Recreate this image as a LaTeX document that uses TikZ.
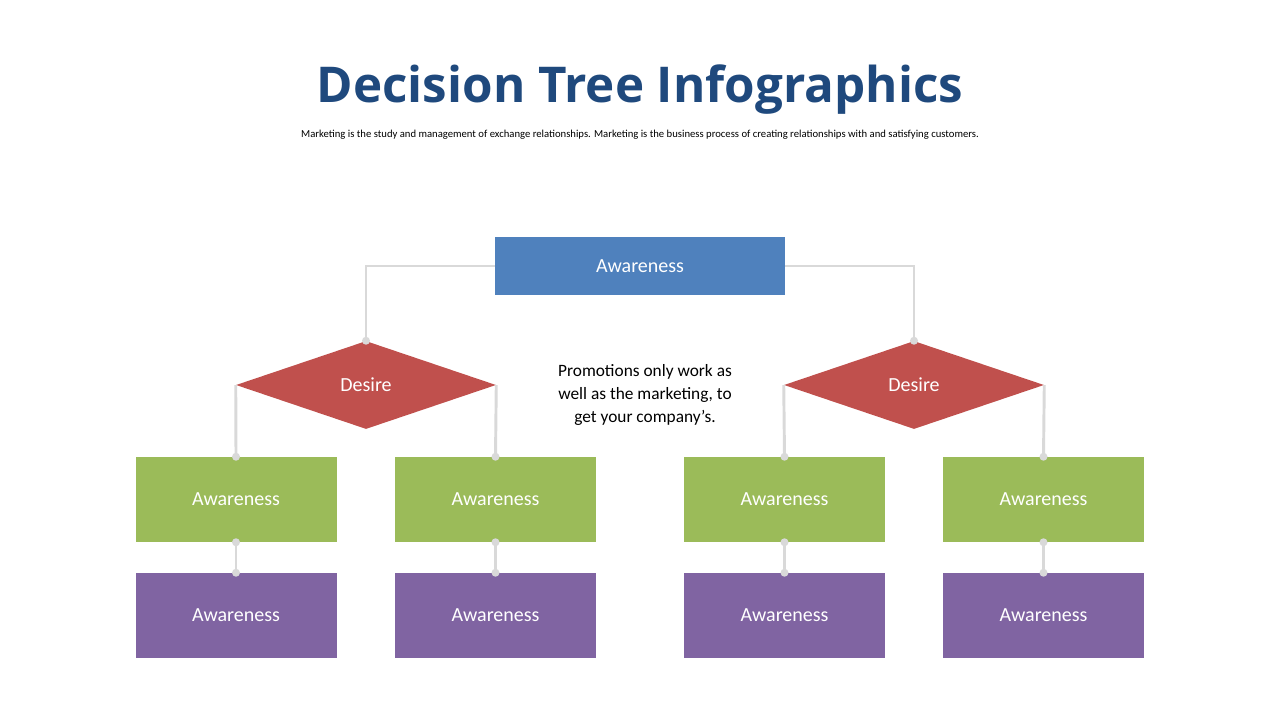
\documentclass[tikz,border=0pt]{standalone}
\usepackage{fontspec}
\setmainfont{Carlito}
\newfontfamily\titlefont{Open Sans}
\usetikzlibrary{shapes.geometric}
\definecolor{tblue}{HTML}{1F497D}
\definecolor{bbox}{HTML}{4F81BD}
\definecolor{rbox}{HTML}{C0504D}
\definecolor{gbox}{HTML}{9BBB59}
\definecolor{pbox}{HTML}{8064A2}
\definecolor{ln}{HTML}{D9D9D9}
\begin{document}
\begin{tikzpicture}[x=0.75pt,y=-0.75pt,
 box/.style={draw=none,minimum width=150.75pt,minimum height=63.75pt,inner sep=0pt,text=white,font=\fontsize{15}{18}\selectfont},
 dia/.style={diamond,draw=none,aspect=2.97,minimum width=195pt,minimum height=66pt,inner sep=0pt,text=white,font=\fontsize{15}{18}\selectfont,fill=rbox},
 con/.style={draw=ln,line width=2.2pt},
 dot/.style={circle,fill=ln,inner sep=0pt,minimum size=6pt}]
\useasboundingbox (0,0) rectangle (1280,720);
\node[font=\titlefont\bfseries\fontsize{37}{44}\selectfont,text=tblue] (title) at (640,90) {Decision Tree Infographics};
\node[font=\fontsize{8}{10}\selectfont] (sub) at (640,135) {Marketing is the study and management of exchange relationships. Marketing is the business process of creating relationships with and satisfying customers.};
\node[align=center,font=\fontsize{13}{17}\selectfont] (mid) at (645,395) {Promotions only work as\\well as the marketing, to\\get your company’s.};
\node[box,fill=bbox,minimum width=217.5pt,minimum height=43.5pt] (top) at (640,266) {Awareness};
\node[dia] (d1) at (366,385) {Desire};
\node[dia] (d2) at (914,385) {Desire};
\foreach \i/\x in {1/236,2/495.5,3/784.5,4/1043.5}{
 \node[box,fill=gbox] (g\i) at (\x,499.5) {Awareness};
 \node[box,fill=pbox] (p\i) at (\x,615.5) {Awareness};
 \draw[con] (g\i.south) -- (p\i.north);
 \node[dot] at (g\i.south) {};
 \node[dot] at (p\i.north) {};
}
\draw[con] (top.west) -| (d1.north);
\draw[con] (top.east) -| (d2.north);
\node[dot] at (d1.north) {};
\node[dot] at (d2.north) {};
\draw[con] (d1.west) -- (g1.north);
\draw[con] (d1.east) -- (g2.north);
\draw[con] (d2.west) -- (g3.north);
\draw[con] (d2.east) -- (g4.north);
\foreach \i in {1,...,4}{\node[dot] at (g\i.north) {};}
\end{tikzpicture}
\end{document}
